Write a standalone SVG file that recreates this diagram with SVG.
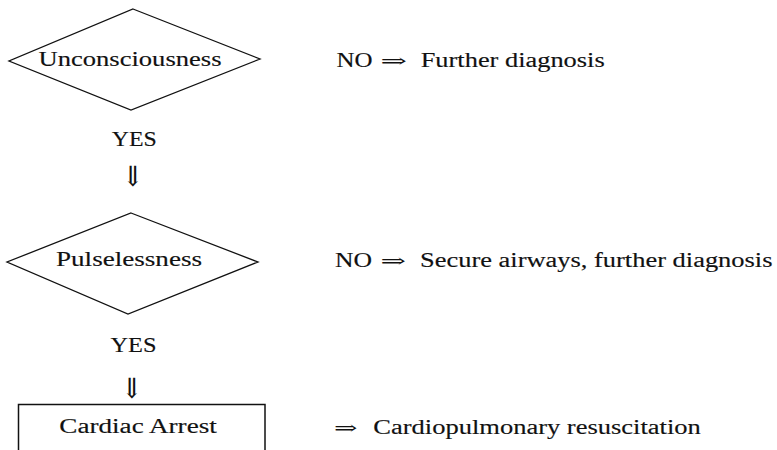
<svg xmlns="http://www.w3.org/2000/svg" width="777" height="450" viewBox="0 0 777 450">
<style>
.shape{fill:none;stroke:#111;stroke-width:1.3;stroke-linejoin:miter}
.t{font-family:"Liberation Serif","DejaVu Serif",serif;font-size:20.5px;fill:#111;stroke:#111;stroke-width:0.15}
.ar{font-family:"DejaVu Serif","DejaVu Sans",serif;font-size:18px;fill:#111}
.dn{font-family:"DejaVu Serif","DejaVu Sans",serif;font-size:28px;fill:#111}
</style>
<rect width="777" height="450" fill="#fff"/>
<g id="unconsciousness">
<polygon class="shape" points="133,9 260,59 131,110 9,61"/>
<text class="t" x="38.5" y="66" textLength="183" lengthAdjust="spacingAndGlyphs">Unconsciousness</text>
</g>
<g id="no1">
<text class="t" x="336.5" y="67.3" textLength="36" lengthAdjust="spacingAndGlyphs">NO</text>
<text class="ar" x="380.5" y="67.3" textLength="26.5" lengthAdjust="spacingAndGlyphs">⇒</text>
<text class="t" x="420.7" y="67.3" textLength="184" lengthAdjust="spacingAndGlyphs">Further diagnosis</text>
</g>
<g id="pulselessness">
<polygon class="shape" points="131,213 258,262 128,314 7,262"/>
<text class="t" x="56" y="265.7" textLength="146" lengthAdjust="spacingAndGlyphs">Pulselessness</text>
</g>
<g id="no2">
<text class="t" x="335" y="266.7" textLength="37" lengthAdjust="spacingAndGlyphs">NO</text>
<text class="ar" x="380.5" y="266.7" textLength="25.5" lengthAdjust="spacingAndGlyphs">⇒</text>
<text class="t" x="420" y="266.7" textLength="352.5" lengthAdjust="spacingAndGlyphs">Secure airways, further diagnosis</text>
</g>
<g id="cardiac-arrest">
<rect class="shape" x="18.5" y="404.5" width="246.5" height="48" style="stroke-width:1.5"/>
<text class="t" x="59.3" y="433.3" textLength="157.5" lengthAdjust="spacingAndGlyphs">Cardiac Arrest</text>
</g>
<g id="cpr">
<text class="ar" x="334" y="434" textLength="23.5" lengthAdjust="spacingAndGlyphs">⇒</text>
<text class="t" x="373.3" y="434" textLength="327.5" lengthAdjust="spacingAndGlyphs">Cardiopulmonary resuscitation</text>
</g>
<g id="connectors">
<text class="t" x="111.7" y="145.7" textLength="45" lengthAdjust="spacingAndGlyphs">YES</text>
<text class="dn" x="122" y="186" textLength="22" lengthAdjust="spacingAndGlyphs">⇓</text>
<text class="t" x="110.5" y="351.5" textLength="46" lengthAdjust="spacingAndGlyphs">YES</text>
<text class="dn" x="121" y="398" textLength="22" lengthAdjust="spacingAndGlyphs">⇓</text>
</g>
</svg>
